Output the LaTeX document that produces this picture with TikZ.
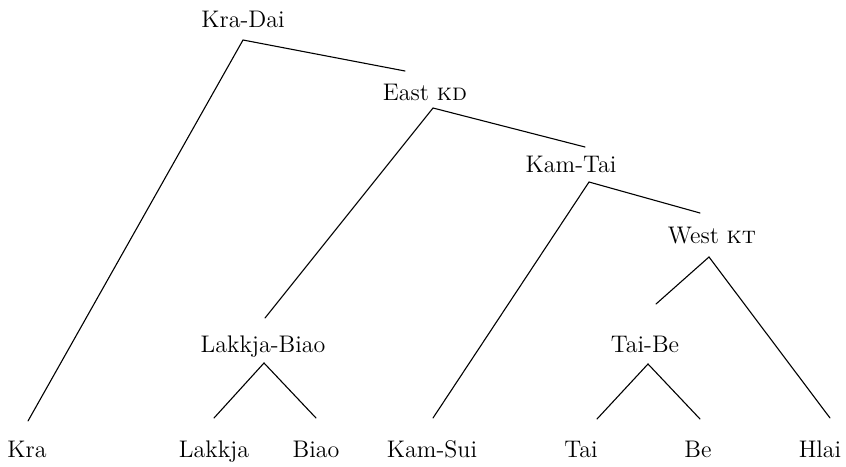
\documentclass[tikz,border=0pt]{standalone}
\usepackage{fontspec}
\begin{document}
\begin{tikzpicture}[x=0.5pt,y=-0.5pt,
  lbl/.style={anchor=base, inner sep=0pt, font=\fontsize{12}{14}\selectfont},
  branch/.style={line width=0.55pt, line cap=round}]
\useasboundingbox (0,0) rectangle (846,466);

% inner nodes of the family tree
\node[lbl] (kradai)  at (243,27)  {Kra-Dai};
\node[lbl] (eastkd)  at (425,100) {East \textsc{kd}};
\node[lbl] (kamtai)  at (571,172) {Kam-Tai};
\node[lbl] (westkt)  at (712,243) {West \textsc{kt}};
\node[lbl] (lakbiao) at (263,352) {Lakkja-Biao};
\node[lbl] (taibe)   at (645,352) {Tai-Be};

% leaves
\node[lbl] (kra)    at (27,457)  {Kra};
\node[lbl] (lakkja) at (214,457) {Lakkja};
\node[lbl] (biao)   at (316,457) {Biao};
\node[lbl] (kamsui) at (432,457) {Kam-Sui};
\node[lbl] (tai)    at (581,457) {Tai};
\node[lbl] (be)     at (698,457) {Be};
\node[lbl] (hlai)   at (820,457) {Hlai};

% fork points under each parent
\coordinate (kradai-f)  at (243,40);
\coordinate (eastkd-f)  at (433,108);
\coordinate (kamtai-f)  at (589,182);
\coordinate (westkt-f)  at (709,257);
\coordinate (lakbiao-f) at (264,363);
\coordinate (taibe-f)   at (648,364);

% branch ends above each child
\coordinate (kra-t)     at (28,421);
\coordinate (eastkd-t)  at (405,71);
\coordinate (lakbiao-t) at (265,318);
\coordinate (kamtai-t)  at (585,147);
\coordinate (kamsui-t)  at (433,418);
\coordinate (westkt-t)  at (700,213);
\coordinate (taibe-t)   at (656,304);
\coordinate (hlai-t)    at (830,418);
\coordinate (lakkja-t)  at (214,418);
\coordinate (biao-t)    at (316,418);
\coordinate (tai-t)     at (597,419);
\coordinate (be-t)      at (700,419);

\draw[branch] (kra-t) -- (kradai-f) -- (eastkd-t);
\draw[branch] (lakbiao-t) -- (eastkd-f) -- (kamtai-t);
\draw[branch] (kamsui-t) -- (kamtai-f) -- (westkt-t);
\draw[branch] (taibe-t) -- (westkt-f) -- (hlai-t);
\draw[branch] (lakkja-t) -- (lakbiao-f) -- (biao-t);
\draw[branch] (tai-t) -- (taibe-f) -- (be-t);
\end{tikzpicture}
\end{document}
